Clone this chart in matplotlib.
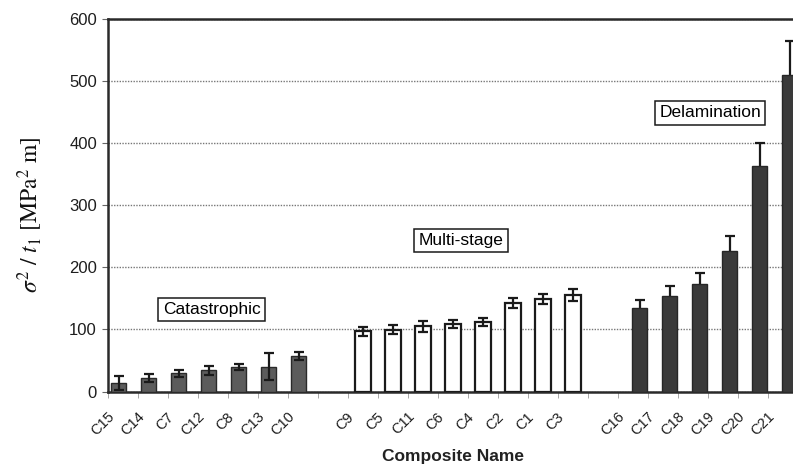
import numpy as np
import matplotlib
matplotlib.use('Agg')
import matplotlib.pyplot as plt
import matplotlib.ticker as mticker

# composite names, grouped by failure mode (blank slots separate groups)
names = ['C15', 'C14', 'C7', 'C12', 'C8', 'C13', 'C10', '',
         'C9', 'C5', 'C11', 'C6', 'C4', 'C2', 'C1', 'C3', '',
         'C16', 'C17', 'C18', 'C19', 'C20', 'C21']

cat_pos = [0, 1, 2, 3, 4, 5, 6]
cat_val = [14, 22, 29, 34, 40, 40, 57]
cat_err = [11, 6.5, 5, 7.5, 5, 21.5, 6]

multi_pos = [8, 9, 10, 11, 12, 13, 14, 15]
multi_val = [97, 99.5, 105, 108.5, 112, 143, 149, 155.5]
multi_err = [7.5, 7, 9, 6.5, 6, 8, 8, 9.5]

delam_pos = [17, 18, 19, 20, 21, 22]
delam_val = [135, 154, 173.5, 226, 363, 510]
delam_err = [13, 16, 18, 24, 38, 54]

plt.rcParams['font.family'] = ['Liberation Sans', 'DejaVu Sans']
plt.rcParams['mathtext.fontset'] = 'stix'

fig = plt.figure(figsize=(7.93, 4.68), dpi=100, facecolor='white')
# axes run past the right edge of the figure, like the cropped scan
ax = fig.add_axes([108 / 793, 76.5 / 468, 690 / 793, 372.5 / 468])

width = 0.52
ekw = dict(ecolor='#1a1a1a', elinewidth=1.6, capthick=1.6, zorder=4)

ax.bar(np.array(cat_pos) - 0.15, cat_val, width, yerr=cat_err, capsize=3.6,
       color='#5c5c5c', edgecolor='#2a2a2a', linewidth=1.0, error_kw=ekw, zorder=3)
ax.bar(np.array(multi_pos), multi_val, width, yerr=multi_err, capsize=3.6,
       color='white', edgecolor='#1a1a1a', linewidth=1.6, error_kw=ekw, zorder=3)
# error bars behind the dark bars: only the upper half shows
ax.bar(np.array(delam_pos) + 0.22, delam_val, width, yerr=delam_err, capsize=3.6,
       color='#3a3a3a', edgecolor='#262626', linewidth=1.0,
       error_kw=dict(ekw, zorder=2), zorder=3)

ax.set_xlim(-0.5, 22.5)
ax.set_ylim(0, 600)

# y axis
ax.set_yticks(np.arange(0, 601, 100))
ax.tick_params(axis='y', direction='out', length=4, width=0.8, color='#666666',
               pad=4, labelsize=12, labelcolor='#1e1e1e')
ax.yaxis.grid(True, linestyle=(0, (1, 1)), color='#777777', linewidth=1.0, zorder=0)

# x axis: labels slightly left of each slot, tiny ticks at slot boundaries
ax.set_xticks(np.arange(len(names)) - 0.2)
ax.set_xticklabels(names, rotation=45, ha='right', va='top', fontsize=10.5, color='#1e1e1e')
ax.tick_params(axis='x', which='major', length=0, pad=13)
ax.xaxis.set_minor_locator(mticker.FixedLocator(np.arange(-0.5, 23, 1)))
ax.tick_params(axis='x', which='minor', direction='out', length=4, width=0.6, color='#999999')

for side in ['left', 'bottom', 'top']:
    ax.spines[side].set_color('#2a2a2a')
    ax.spines[side].set_linewidth(1.8)
ax.spines['right'].set_visible(False)

box = dict(boxstyle='square,pad=0.25', facecolor='white', edgecolor='#1a1a1a', linewidth=1.1)
ax.text(2.95, 132, 'Catastrophic', fontsize=12.5, ha='center', va='center', bbox=box, zorder=5)
ax.text(11.27, 243, 'Multi-stage', fontsize=12.5, ha='center', va='center', bbox=box, zorder=5)
ax.text(19.57, 449, 'Delamination', fontsize=12.5, ha='center', va='center', bbox=box, zorder=5)

fig.text(30 / 793, 1 - 215 / 468, r'$\sigma^2\ /\ t_1\ [\mathrm{MPa}^2\ \mathrm{m}]$',
         rotation=90, ha='center', va='center', fontsize=17, color='#111111')
fig.text(453 / 793, 1 - 457 / 468, 'Composite Name', fontsize=12.5, fontweight='bold',
         ha='center', va='center', color='#222222')

fig.savefig('out.png', dpi=100)
